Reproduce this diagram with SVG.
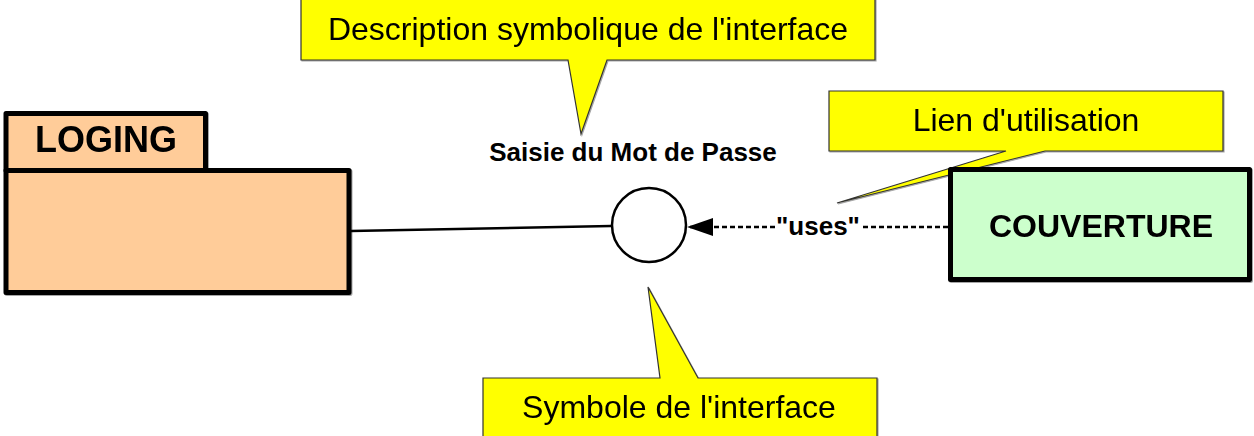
<svg xmlns="http://www.w3.org/2000/svg" width="1254" height="436" viewBox="0 0 1254 436">
  <defs>
    <style>
      .note { fill: #ffff00; stroke: #333333; stroke-width: 1.2; stroke-linejoin: miter; }
      .noteText { font-family: "Liberation Sans", Arial, sans-serif; font-size: 32px; fill: #000; text-anchor: middle; }
      .boxText { font-family: "Liberation Sans", Arial, sans-serif; font-weight: bold; fill: #000; text-anchor: middle; }
      .thick { stroke: #000; stroke-width: 5; stroke-linejoin: round; }
      .dash { stroke: #000; stroke-width: 2.5; stroke-dasharray: 5,3; }
    </style>
    <marker id="arrowHead" markerWidth="26" markerHeight="18" refX="25" refY="9" orient="auto" markerUnits="userSpaceOnUse">
      <path d="M0,0 L26,9 L0,18 Z" fill="#000"/>
    </marker>
    <filter id="shade" x="-5%" y="-5%" width="110%" height="115%">
      <feDropShadow dx="1" dy="1" stdDeviation="0.6" flood-color="#000" flood-opacity="0.35"/>
    </filter>
  </defs>

  <rect width="1254" height="436" fill="#ffffff"/>

  <!-- callout: symbolic description of the interface -->
  <g id="note-description" filter="url(#shade)">
    <path class="note" d="M301,-2 H875 V60 H607 L581,134 L568,60 H301 Z"/>
    <text class="noteText" x="588" y="40">Description symbolique de l'interface</text>
  </g>

  <!-- callout: usage link (partly hidden behind COUVERTURE) -->
  <g id="note-usage" filter="url(#shade)">
    <path class="note" d="M829,91 H1223 V151 H1045 L837,203 L1006,151 H829 Z"/>
    <text class="noteText" x="1026" y="131">Lien d'utilisation</text>
  </g>

  <!-- callout: interface symbol -->
  <g id="note-symbol" filter="url(#shade)">
    <path class="note" d="M483,378 H660 L648,287 L698,378 H877 V440 H483 Z"/>
    <text class="noteText" x="679" y="418">Symbole de l'interface</text>
  </g>

  <!-- connectors -->
  <g id="connectors">
    <line x1="351" y1="231" x2="611" y2="226" stroke="#000" stroke-width="2.5"/>
    <line class="dash" x1="948" y1="227" x2="862" y2="227"/>
    <line class="dash" x1="775" y1="227" x2="688" y2="227" marker-end="url(#arrowHead)"/>
    <text class="boxText" x="818" y="235" font-size="26">"uses"</text>
  </g>

  <!-- LOGING package -->
  <g id="node-loging" filter="url(#shade)">
    <rect class="thick" x="6" y="113.5" width="199.5" height="57" fill="#ffcc99"/>
    <rect class="thick" x="6" y="170.5" width="343" height="122" fill="#ffcc99"/>
    <text class="boxText" x="106" y="152" font-size="36">LOGING</text>
  </g>

  <!-- interface lollipop -->
  <g id="node-interface">
    <circle cx="649" cy="225" r="37" fill="#ffffff" stroke="#000" stroke-width="2.5"/>
    <text class="boxText" x="633" y="161" font-size="26">Saisie du Mot de Passe</text>
  </g>

  <!-- COUVERTURE component -->
  <g id="node-couverture" filter="url(#shade)">
    <rect class="thick" x="950.5" y="169.5" width="299" height="110" fill="#ccffcc"/>
    <text class="boxText" x="1101" y="237" font-size="32">COUVERTURE</text>
  </g>
</svg>
